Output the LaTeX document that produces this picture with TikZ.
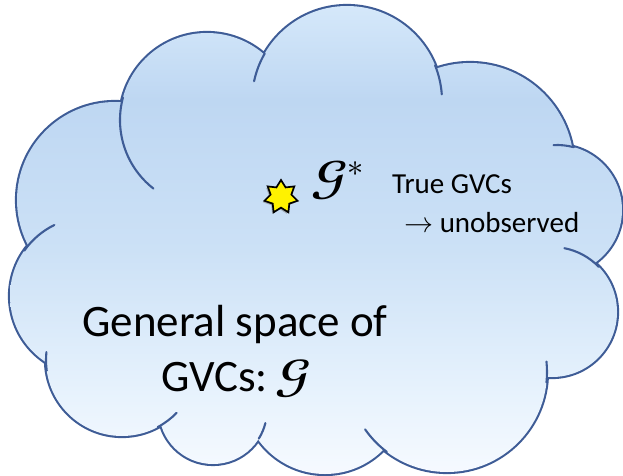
\documentclass[tikz,border=0pt]{standalone}
\usepackage{unicode-math}
\setmainfont{Carlito}
\setmathfont{Latin Modern Math}
\usetikzlibrary{positioning, calc, shapes.geometric, shadows}
\definecolor{cloudline}{RGB}{62,92,150}
\pgfdeclareverticalshading{cloudfill}{100bp}{rgb(0bp)=(0.965,0.98,1); rgb(25bp)=(0.965,0.98,1); rgb(33bp)=(0.91,0.953,0.992);
    rgb(49bp)=(0.80,0.882,0.965); rgb(65bp)=(0.745,0.843,0.949); rgb(75bp)=(0.835,0.91,0.98); rgb(100bp)=(0.835,0.91,0.98)}
\newcommand{\cloudstub}[4]{\draw[lobe] (#1) ++(#3:#2pt) arc[start angle=#3, end angle=#4, radius=#2pt];}

\begin{document}
\begin{tikzpicture}[x=1pt, y=1pt,
    lobe/.style={cloudline, line width=2.1pt, line cap=round},
    bigtext/.style={font=\fontsize{45}{54}\selectfont, anchor=base, inner sep=0pt},
    smalltext/.style={font=\fontsize{29}{35}\selectfont, anchor=base west, inner sep=0pt}]
    \useasboundingbox (0,0) rectangle (623,475);
    \coordinate (lu) at (115,275);
    \coordinate (ul) at (207,355);
    \coordinate (t) at (347,374);
    \coordinate (rt) at (470,308);
    \coordinate (r) at (557,265);
    \coordinate (lr) at (552,163);
    \coordinate (br) at (447,103);
    \coordinate (bm) at (325,83);
    \coordinate (bltwo) at (213,65);
    \coordinate (blone) at (122,115);
    \coordinate (ll) at (89,179);
    \draw[cloudline, line width=4.2pt] (lu) circle (98pt) (ul) circle (87pt) (t) circle (95pt) (rt) circle (104pt)
        (r) circle (65pt) (lr) circle (65pt) (br) circle (100pt) (bm) circle (82pt) (bltwo) circle (54pt)
        (blone) circle (76pt) (ll) circle (79pt);
    \shade[shading=cloudfill] (lu) -- (ll) -- (blone) -- (bltwo) -- (bm) -- (br) -- (lr) -- (r) -- (rt) -- (t) -- (ul) -- cycle
        (lu) circle (98pt) (ul) circle (87pt) (t) circle (95pt) (rt) circle (104pt)
        (r) circle (65pt) (lr) circle (65pt) (br) circle (100pt) (bm) circle (82pt) (bltwo) circle (54pt)
        (blone) circle (76pt) (ll) circle (79pt);
    \cloudstub{ul}{87}{165}{232}
    \cloudstub{t}{95}{150}{168}
    \cloudstub{t}{95}{22}{4}
    \cloudstub{r}{65}{75}{93}
    \cloudstub{lr}{65}{44}{79}
    \cloudstub{br}{100}{-6}{6}
    \cloudstub{br}{100}{233}{215}
    \cloudstub{bltwo}{54}{-32}{-14}
    \cloudstub{blone}{76}{-62}{-44}
    \cloudstub{blone}{76}{188}{174}
    \cloudstub{ll}{79}{145}{116}
    \node[star, star points=7, star point ratio=1.6, minimum size=34pt, inner sep=0pt, fill=yellow, draw=black, line width=1.7pt,
        drop shadow={opacity=0.55, shadow xshift=-1.5pt, shadow yshift=-1.5pt}] (truestar) at (281,278) {};
    \node[smalltext, font=\fontsize{46}{54}\selectfont] (gstar) at (311,282) {$\mathbfscr{G}^{*}$};
    \node[smalltext] (truegvc) at (392,282) {True GVCs};
    \node[smalltext] (unobs) at (404,243) {$\rightarrow$ unobserved};
    \node[bigtext] (spaceone) at (235,139) {General space of};
    \node[bigtext] (spacetwo) at (236,84) {GVCs:\,$\mathbfscr{G}$};
\end{tikzpicture}
\end{document}
